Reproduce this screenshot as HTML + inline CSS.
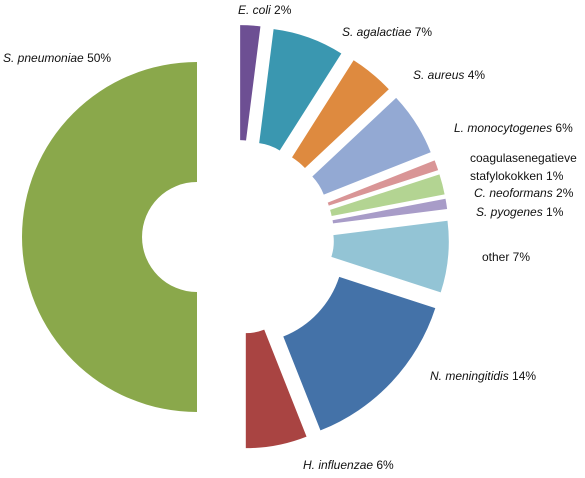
<!DOCTYPE html>
<html><head><meta charset="utf-8"><style>
body{margin:0;background:#fff;}
svg text{font-family:"Liberation Sans",sans-serif;font-size:12px;fill:#111;}
</style></head><body>
<svg width="585" height="473">
<g id="slices"></g>
<g id="labels">
<text x="3" y="62"><tspan font-style="italic">S. pneumoniae</tspan> 50%</text>
<text x="238" y="14"><tspan font-style="italic">E. coli</tspan> 2%</text>
<text x="342" y="36"><tspan font-style="italic">S. agalactiae</tspan> 7%</text>
<text x="413" y="79"><tspan font-style="italic">S. aureus</tspan> 4%</text>
<text x="454" y="132"><tspan font-style="italic">L. monocytogenes</tspan> 6%</text>
<text x="470" y="162">coagulasenegatieve</text>
<text x="470" y="180">stafylokokken 1%</text>
<text x="474" y="197"><tspan font-style="italic">C. neoformans</tspan> 2%</text>
<text x="476" y="216"><tspan font-style="italic">S. pyogenes</tspan> 1%</text>
<text x="482" y="261">other 7%</text>
<text x="430" y="380"><tspan font-style="italic">N. meningitidis</tspan> 14%</text>
<text x="303" y="469"><tspan font-style="italic">H. influenzae</tspan> 6%</text>
</g>
</svg>
<script>
const categories=["E. coli","S. agalactiae","S. aureus","L. monocytogenes","coagulasenegatieve stafylokokken","C. neoformans","S. pyogenes","other","N. meningitidis","H. influenzae","S. pneumoniae"];
const values=[2,7,4,6,1,2,1,7,14,6,50];
const colors=["#6d4f93","#3a97b0","#de8a3f","#93a9d3","#d99596","#b3d492","#a89cc8","#93c4d5","#4472a8","#a94442","#8aa84b"];
const explode=[50,47,30,40,47,47,47,47,15,47,0];
const innerExtra=[0,0,0,0,0,0,0,0,14,0,0];
const NS='http://www.w3.org/2000/svg';
const g=document.getElementById('slices');
const total=values.reduce((a,b)=>a+b,0);
function pt(cx,cy,r,a){return [cx+r*Math.sin(a),cy-r*Math.cos(a)];}
let cum=0;
values.forEach((v,i)=>{
  const a0=cum/total*2*Math.PI, a1=(cum+v)/total*2*Math.PI; cum+=v;
  const last=i===values.length-1;
  let cx,cy,R,r;
  if(last){cx=197;cy=237;R=175;r=55;}
  else{const m=(a0+a1)/2,e=explode[i];cx=237+e*Math.sin(m);cy=237-e*Math.cos(m);R=212-e;r=97-e+innerExtra[i];}
  const p1=pt(cx,cy,R,a0),p2=pt(cx,cy,R,a1),p3=pt(cx,cy,r,a1),p4=pt(cx,cy,r,a0);
  const large=(a1-a0)>Math.PI?1:0;
  const d=`M${p1}A${R},${R} 0 ${large} 1 ${p2}L${p3}A${r},${r} 0 ${large} 0 ${p4}Z`;
  const p=document.createElementNS(NS,'path');
  p.setAttribute('d',d);p.setAttribute('fill',colors[i]);
  
  
  g.appendChild(p);
});
</script>
</body></html>
